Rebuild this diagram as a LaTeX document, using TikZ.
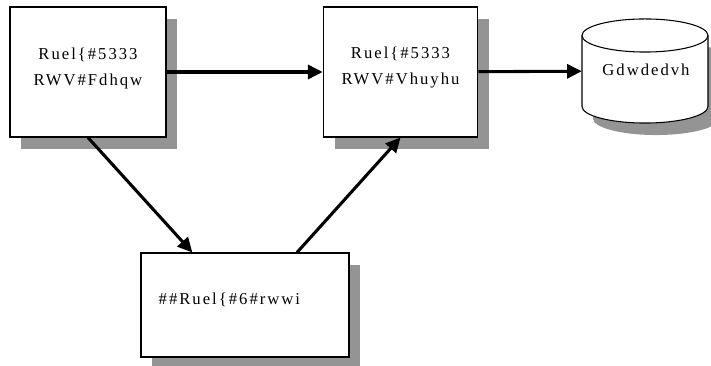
\documentclass[tikz,border=0pt]{standalone}
\usepackage{fontspec}
\setmainfont{Liberation Serif}
\newfontfamily\boxfont[LetterSpace=12]{Liberation Serif}
\usetikzlibrary{shadows,arrows.meta}

\tikzset{
  box/.style={draw, thick, fill=white, inner sep=0pt,
    drop shadow={shadow xshift=8.5pt, shadow yshift=-9pt, fill=black!42, opacity=1}},
  link/.style={line width=2.3pt, -{Triangle[length=11pt,width=10.5pt]}},
  boxtext/.style={font=\fontsize{12.5}{19.5}\boxfont, align=center},
  rim/.style={x radius=47.25pt, y radius=12.4pt}
}

\begin{document}
\begin{tikzpicture}[x=0.75pt, y=-0.75pt]
\useasboundingbox (0,0) rectangle (711,366);
\node [box, minimum width=117pt, minimum height=97.5pt] (a) at (88,72) {};
\node [box, minimum width=116pt, minimum height=97.5pt] (b) at (400.5,72) {};
\node [box, minimum width=156pt, minimum height=78pt] (c) at (245,305) {};
% database drum
\fill [black!42] (593,47.5) -- (593,118.5) arc [start angle=180, end angle=360, rim]
  -- (719,47.5) -- cycle;
\draw [thick, fill=white] (582,35.5) -- (582,106.5) arc [start angle=180, end angle=360, rim]
  -- (708,35.5) arc [start angle=0, end angle=180, rim] -- cycle;
\draw [thick] (582,35.5) arc [start angle=180, end angle=360, rim];
\node [inner sep=0pt, minimum width=94.5pt, minimum height=78pt] (db) at (645,71) {};
\node [boxtext] at (88,68) {Ruel\{\#5333\\RWV\#Fdhqw};
\node [boxtext] at (400.5,68) {Ruel\{\#5333\\RWV\#Vhuyhu};
\node [boxtext, anchor=west] at (154,300) {\#\#Ruel\{\#6\#rwwi};
\node [boxtext] at (646,70) {Gdwdedvh};
\path [link] (a) edge (b);
\path [link] (b) edge (db);
\path [link] (a.south) edge ([xshift=-39.5pt]c.north);
\path [link] ([xshift=39pt]c.north) edge (b.south);
\end{tikzpicture}
\end{document}
